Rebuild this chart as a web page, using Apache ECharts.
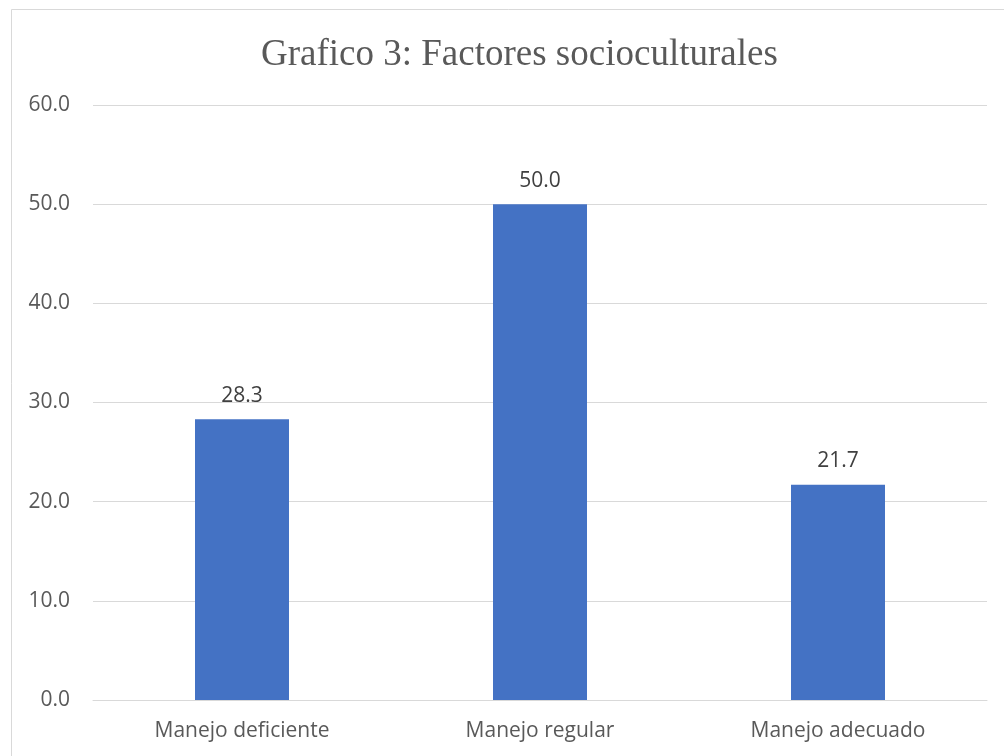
<!DOCTYPE html>
<html><head><meta charset="utf-8">
<script src="https://cdn.jsdelivr.net/npm/echarts@6/dist/echarts.min.js"></script>
<style>html,body{margin:0;padding:0;background:#fff}#c{width:1004px;height:756px}</style>
</head><body><div id="c"></div>
<script>
const titleText = 'Grafico 3: Factores socioculturales';
const categories = ['Manejo deficiente', 'Manejo regular', 'Manejo adecuado'];
const values = [28.3, 50.0, 21.7];
const yTicks = { min: 0, max: 60, interval: 10 };

const chart = echarts.init(document.getElementById('c'));
const font = '"Open Sans", sans-serif';
chart.setOption({
  animation: false,
  backgroundColor: '#fff',
  title: {
    text: titleText, left: 256, top: 32,
    textStyle: { fontFamily: '"Liberation Serif", serif', fontSize: 37, fontWeight: 'normal', color: '#595959' }
  },
  graphic: [{ type: 'rect', shape: { x: 11.5, y: 9.5, width: 1100, height: 900 }, style: { fill: 'none', stroke: '#d9d9d9', lineWidth: 1 }, silent: true }],
  grid: { left: 93, right: 17, top: 105, bottom: 56 },
  xAxis: {
    type: 'category', data: categories,
    axisLine: { lineStyle: { color: '#d9d9d9' } },
    axisTick: { show: false },
    axisLabel: { color: '#595959', fontFamily: font, fontSize: 21, margin: 21 }
  },
  yAxis: {
    type: 'value', min: yTicks.min, max: yTicks.max, interval: yTicks.interval,
    axisLine: { show: false }, axisTick: { show: false },
    axisLabel: { color: '#595959', fontFamily: font, fontSize: 21, margin: 23, formatter: v => v.toFixed(1) },
    splitLine: { lineStyle: { color: '#d9d9d9' } }
  },
  series: [{
    type: 'bar', data: values, barWidth: 94,
    itemStyle: { color: '#4472c4' },
    label: { show: true, position: 'top', distance: 13, color: '#404040', fontFamily: font, fontSize: 21, formatter: p => p.value.toFixed(1) }
  }]
});
</script></body></html>
